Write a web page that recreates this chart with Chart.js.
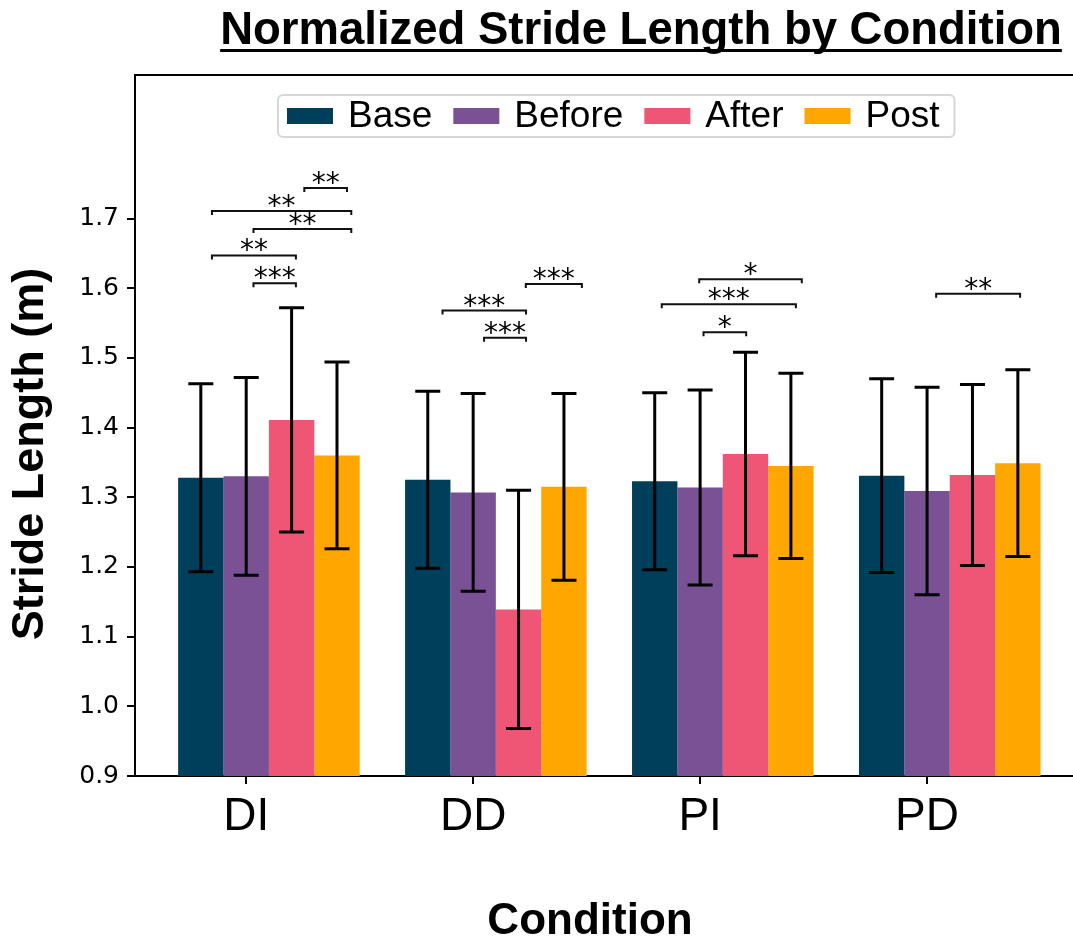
<!DOCTYPE html>
<html>
<head>
<meta charset="utf-8">
<title>Normalized Stride Length by Condition</title>
<script src="https://cdn.jsdelivr.net/npm/chart.js@4.4.1/dist/chart.umd.min.js"></script>
<style>
    html, body { margin: 0; padding: 0; background: #ffffff; overflow: hidden; }
    #wrap { position: relative; width: 1073px; height: 940px; }
</style>
</head>
<body>
<div id="wrap"><canvas id="stride-chart"></canvas></div>
<script>
// Categories and series
const conditions = ['DI', 'DD', 'PI', 'PD'];
const seriesNames = ['Base', 'Before', 'After', 'Post'];
const seriesColors = ['#003f5c', '#7a5195', '#ef5675', '#ffa600'];

// Mean stride length (m) and standard deviation per condition
const baseMean = [1.328, 1.325, 1.323, 1.331];
const baseSd = [0.135, 0.127, 0.127, 0.139];
const beforeMean = [1.330, 1.307, 1.314, 1.309];
const beforeSd = [0.142, 0.142, 0.140, 0.149];
const afterMean = [1.411, 1.139, 1.362, 1.332];
const afterSd = [0.161, 0.171, 0.146, 0.130];
const postMean = [1.360, 1.315, 1.345, 1.349];
const postSd = [0.134, 0.134, 0.133, 0.134];

// Y tick labels
const yTicks = [0.9, 1.0, 1.1, 1.2, 1.3, 1.4, 1.5, 1.6, 1.7];

// Significance brackets: start / end on the condition axis, height (m), label
const sigFrom = [0.256, -0.151, 0.032, -0.151, 0.032, 1.232, 0.865, 1.048, 1.996, 1.831, 2.015, 3.040];
const sigTo = [0.444, 0.463, 0.463, 0.219, 0.219, 1.479, 1.233, 1.233, 2.448, 2.422, 2.203, 3.410];
const sigLevel = [1.744, 1.711, 1.685, 1.647, 1.607, 1.606, 1.568, 1.529, 1.613, 1.577, 1.537, 1.592];
const sigLabel = ['**', '**', '**', '**', '***', '***', '***', '***', '*', '***', '*', '**'];

const means = [baseMean, beforeMean, afterMean, postMean];
const sds = [baseSd, beforeSd, afterSd, postSd];

// bar groups sit a bit right of the tick (Before is centred on it)
const BAR_SHIFT = 0.1;

const SANS = '"Liberation Sans", Arial, Helvetica, sans-serif';
const DEJAVU = '"DejaVu Sans", sans-serif';

// Extra drawing: error bars, brackets, legend box, titles, top spine
const decorations = {
    id: 'decorations',
    afterDatasetsDraw(chart) {
        const ctx = chart.ctx;
        const xs = chart.scales.x;
        const ys = chart.scales.y;

        // error bars
        ctx.save();
        ctx.strokeStyle = '#000';
        ctx.lineWidth = 3;
        chart.data.datasets.forEach((ds, s) => {
            const meta = chart.getDatasetMeta(s);
            meta.data.forEach((bar, i) => {
                const m = means[s][i];
                const e = ds.errors[i];
                const yTop = ys.getPixelForValue(m + e);
                const yBot = ys.getPixelForValue(m - e);
                ctx.beginPath();
                ctx.moveTo(bar.x, yTop);
                ctx.lineTo(bar.x, yBot);
                ctx.moveTo(bar.x - 12.5, yTop);
                ctx.lineTo(bar.x + 12.5, yTop);
                ctx.moveTo(bar.x - 12.5, yBot);
                ctx.lineTo(bar.x + 12.5, yBot);
                ctx.stroke();
            });
        });
        ctx.restore();

        // significance brackets
        ctx.save();
        ctx.strokeStyle = '#111';
        ctx.fillStyle = '#000';
        ctx.lineWidth = 2;
        ctx.font = '28px ' + DEJAVU;
        ctx.textAlign = 'center';
        ctx.textBaseline = 'alphabetic';
        sigLabel.forEach((label, k) => {
            const x1 = xs.getPixelForValue(sigFrom[k]);
            const x2 = xs.getPixelForValue(sigTo[k]);
            const y = ys.getPixelForValue(sigLevel[k]);
            ctx.beginPath();
            ctx.moveTo(x1, y + 4);
            ctx.lineTo(x1, y);
            ctx.lineTo(x2, y);
            ctx.lineTo(x2, y + 4);
            ctx.stroke();
            ctx.fillText(label, (x1 + x2) / 2, y + 4);
        });
        ctx.restore();

        // legend inside the plot
        const area = chart.chartArea;
        const lgLeft = area.left + 143;
        const lgTop = area.top + 20;
        const lgHeight = 42;
        const cy = lgTop + lgHeight / 2;
        ctx.save();
        ctx.font = '37px ' + SANS;
        let x = lgLeft + 9;
        const items = chart.data.datasets.map(ds => {
            const w = ctx.measureText(ds.label).width;
            const item = { x: x, label: ds.label, color: ds.backgroundColor };
            x += 46 + 15 + w + 21;
            return item;
        });
        const lgRight = x - 21 + 15;
        const r = 5;
        ctx.beginPath();
        ctx.moveTo(lgLeft + r, lgTop);
        ctx.arcTo(lgRight, lgTop, lgRight, lgTop + lgHeight, r);
        ctx.arcTo(lgRight, lgTop + lgHeight, lgLeft, lgTop + lgHeight, r);
        ctx.arcTo(lgLeft, lgTop + lgHeight, lgLeft, lgTop, r);
        ctx.arcTo(lgLeft, lgTop, lgRight, lgTop, r);
        ctx.closePath();
        ctx.fillStyle = 'rgba(255,255,255,0.8)';
        ctx.fill();
        ctx.strokeStyle = '#d6d6d6';
        ctx.lineWidth = 2;
        ctx.stroke();
        ctx.textBaseline = 'middle';
        ctx.textAlign = 'left';
        items.forEach(item => {
            ctx.fillStyle = item.color;
            ctx.fillRect(item.x, cy - 8, 46, 16);
            ctx.fillStyle = '#000';
            ctx.fillText(item.label, item.x + 46 + 15, cy + 1);
        });
        ctx.restore();
    },
    afterDraw(chart) {
        const ctx = chart.ctx;
        const area = chart.chartArea;

        // top spine
        ctx.save();
        ctx.strokeStyle = '#000';
        ctx.lineWidth = 2;
        ctx.beginPath();
        ctx.moveTo(area.left - 1, area.top);
        ctx.lineTo(area.right, area.top);
        ctx.stroke();

        // underlined title
        const title = 'Normalized Stride Length by Condition';
        const tx = area.left + 506;
        ctx.font = 'bold 45.5px ' + SANS;
        ctx.fillStyle = '#000';
        ctx.textAlign = 'center';
        ctx.textBaseline = 'alphabetic';
        ctx.fillText(title, tx, 44);
        const tw = ctx.measureText(title).width;
        ctx.lineWidth = 3;
        ctx.beginPath();
        ctx.moveTo(tx - tw / 2, 50.5);
        ctx.lineTo(tx + tw / 2, 50.5);
        ctx.stroke();

        // axis titles
        ctx.font = 'bold 44px ' + SANS;
        ctx.fillText('Condition', 590, 934);

        ctx.translate(31, 454);
        ctx.rotate(-Math.PI / 2);
        ctx.font = 'bold 45px ' + SANS;
        ctx.textBaseline = 'middle';
        ctx.fillText('Stride Length (m)', 0, 0);
        ctx.restore();
    }
};

const ctx = document.getElementById('stride-chart');

new Chart(ctx, {
    type: 'bar',
    data: {
        datasets: seriesNames.map((name, s) => ({
            label: name,
            data: conditions.map((c, i) => ({ x: i + BAR_SHIFT, y: means[s][i] })),
            errors: sds[s],
            backgroundColor: seriesColors[s],
            borderWidth: 0,
            categoryPercentage: 0.8,
            barPercentage: 1.0
        }))
    },
    options: {
        responsive: true,
        maintainAspectRatio: false,
        animation: false,
        layout: {
            padding: { top: 75, left: 0, right: 0, bottom: 0 }
        },
        plugins: {
            legend: { display: false },
            title: { display: false },
            tooltip: { enabled: false }
        },
        scales: {
            x: {
                type: 'linear',
                min: -0.49,
                max: 3.643,
                offset: false,
                afterBuildTicks: (scale) => {
                    scale.ticks = conditions.map((c, i) => ({ value: i }));
                },
                afterFit: (scale) => {
                    scale.height = 164;
                },
                ticks: {
                    callback: (value) => conditions[value],
                    color: '#000',
                    font: { family: SANS, size: 46 },
                    padding: 6,
                    maxRotation: 0,
                    autoSkip: false
                },
                grid: {
                    offset: false,
                    drawOnChartArea: false,
                    drawTicks: true,
                    tickLength: 8,
                    color: '#000',
                    lineWidth: 2
                },
                border: { display: true, color: '#000', width: 2 }
            },
            y: {
                min: 0.9,
                max: 1.906,
                afterBuildTicks: (scale) => {
                    scale.ticks = yTicks.map(v => ({ value: v }));
                },
                afterFit: (scale) => {
                    scale.width = 135;
                },
                ticks: {
                    callback: (value) => value.toFixed(1),
                    color: '#000',
                    font: { family: DEJAVU, size: 25 },
                    padding: 8
                },
                grid: {
                    drawOnChartArea: false,
                    drawTicks: true,
                    tickLength: 8,
                    color: '#000',
                    lineWidth: 2
                },
                border: { display: true, color: '#000', width: 2 }
            }
        }
    },
    plugins: [decorations]
});
</script>
</body>
</html>
